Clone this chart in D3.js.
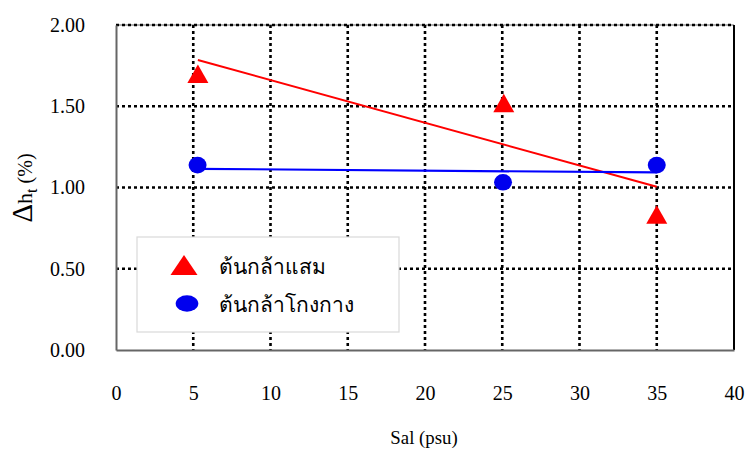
<!DOCTYPE html>
<html>
<head>
<meta charset="utf-8">
<script src="https://cdn.jsdelivr.net/npm/d3@7"></script>
<style>
  html, body { margin: 0; padding: 0; background: #fff; }
  svg { display: block; }
</style>
</head>
<body>
<svg id="chart" width="747" height="450"></svg>
<script>
// Salinity levels (psu) and height change (%) for each seedling type
const samXs = [5.3, 25.1, 35.0];
const samVals = [1.70, 1.52, 0.834];
const kongXs = [5.28, 25.05, 35.0];
const kongVals = [1.138, 1.032, 1.138];
const seriesNames = ["ต้นกล้าแสม", "ต้นกล้าโกงกาง"];
const xTicks = [0, 5, 10, 15, 20, 25, 30, 35, 40];
const yTicks = [0, 0.5, 1.0, 1.5, 2.0];

const FONT = '"Liberation Serif"';

const svg = d3.select("#chart");
const m = { left: 116, right: 734, top: 25, bottom: 350 };

const x = d3.scaleLinear().domain([0, 40]).range([m.left, m.right]);
const y = d3.scaleLinear().domain([0, 2]).range([m.bottom, m.top]);

// plot frame: grey top edge under the dotted top gridline, black right edge
svg.append("line").attr("x1", m.left).attr("x2", m.right).attr("y1", m.top).attr("y2", m.top)
  .attr("stroke", "#999").attr("stroke-width", 1.5);
svg.append("line").attr("x1", m.right).attr("x2", m.right).attr("y1", m.top).attr("y2", m.bottom)
  .attr("stroke", "#000").attr("stroke-width", 2);

// dotted grid
const grid = svg.append("g");
grid.selectAll("line.v").data(xTicks.filter(d => d > 0 && d < 40)).join("line")
  .attr("x1", d => x(d)).attr("x2", d => x(d))
  .attr("y1", m.top).attr("y2", m.bottom)
  .attr("stroke", "#000").attr("stroke-width", 2.6).attr("stroke-dasharray", "3,3");
grid.selectAll("line.h").data(yTicks.filter(d => d > 0)).join("line")
  .attr("x1", m.left).attr("x2", m.right)
  .attr("y1", d => y(d)).attr("y2", d => y(d))
  .attr("stroke", "#000").attr("stroke-width", 2.6).attr("stroke-dasharray", "3,3");

// axes (no tick marks, labels only)
const xAxis = d3.axisBottom(x).tickValues(xTicks).tickSize(0).tickPadding(36).tickFormat(d3.format("d"));
const gx = svg.append("g").attr("transform", `translate(0,${m.bottom})`).call(xAxis);
gx.attr("font-family", null).attr("font-size", null);
gx.select(".domain").attr("stroke", "#666").attr("stroke-width", 2);
gx.selectAll("text").style("font-size", "20px").style("font-family", FONT).attr("fill", "#000");

const yAxis = d3.axisLeft(y).tickValues(yTicks).tickSize(0).tickPadding(31).tickFormat(d3.format(".2f"));
const gy = svg.append("g").attr("transform", `translate(${m.left},0)`).call(yAxis);
gy.attr("font-family", null).attr("font-size", null);
gy.select(".domain").attr("stroke", "#666").attr("stroke-width", 2);
gy.selectAll("text").style("font-size", "20px").style("font-family", FONT).attr("fill", "#000");

// linear trend lines (least squares)
function fit(xs, ys) {
  const n = xs.length;
  const mx = d3.mean(xs), my = d3.mean(ys);
  let sxy = 0, sxx = 0;
  for (let i = 0; i < n; i++) { sxy += (xs[i] - mx) * (ys[i] - my); sxx += (xs[i] - mx) ** 2; }
  const b = sxy / sxx, a = my - b * mx;
  const x0 = d3.min(xs), x1 = d3.max(xs);
  return [[x0, a + b * x0], [x1, a + b * x1]];
}
const line = d3.line().x(d => x(d[0])).y(d => y(d[1]));
svg.append("path").attr("d", line(fit(samXs, samVals)))
  .attr("stroke", "#ff0000").attr("stroke-width", 2).attr("fill", "none");
svg.append("path").attr("d", line(fit(kongXs, kongVals)))
  .attr("stroke", "#0000ff").attr("stroke-width", 2.2).attr("fill", "none");

// triangle marker centred on its bounding box
const triPath = (w, h) => `M0,${-h / 2}L${w / 2},${h / 2}L${-w / 2},${h / 2}Z`;

svg.selectAll("path.sam").data(samXs.map((v, i) => [v, samVals[i]])).join("path")
  .attr("class", "sam")
  .attr("transform", d => `translate(${x(d[0])},${y(d[1])})`)
  .attr("d", triPath(21, 18.5)).attr("fill", "#ff0000");
svg.selectAll("ellipse.kong").data(kongXs.map((v, i) => [v, kongVals[i]])).join("ellipse")
  .attr("class", "kong")
  .attr("cx", d => x(d[0])).attr("cy", d => y(d[1]))
  .attr("rx", 9).attr("ry", 8.3).attr("fill", "#0000ee");

// legend
const lg = svg.append("g");
lg.append("rect").attr("x", 137).attr("y", 237).attr("width", 262).attr("height", 95)
  .attr("fill", "#fff").attr("stroke", "#d9d9d9").attr("stroke-width", 1.2);
lg.append("path").attr("transform", "translate(184,265)").attr("d", triPath(27, 20)).attr("fill", "#ff0000");
lg.append("ellipse").attr("cx", 187).attr("cy", 303.5).attr("rx", 11.3).attr("ry", 8.3).attr("fill", "#0000ee");
lg.selectAll("text").data(seriesNames).join("text")
  .attr("x", 219).attr("y", (d, i) => 274 + i * 38)
  .style("font-family", FONT).style("font-size", "21px").attr("fill", "#000")
  .text(d => d);

// axis titles
svg.append("text").attr("x", 424).attr("y", 444).attr("text-anchor", "middle")
  .style("font-family", FONT).style("font-size", "18.8px").attr("fill", "#000").text("Sal (psu)");
const yt = svg.append("text").attr("transform", "translate(32,188) rotate(-90)")
  .attr("text-anchor", "middle").style("font-family", FONT).attr("fill", "#000");
yt.append("tspan").style("font-size", "29px").text("Δ");
yt.append("tspan").style("font-size", "22px").text("h");
yt.append("tspan").style("font-size", "16px").attr("dy", 5).text("t");
yt.append("tspan").style("font-size", "20px").attr("dy", -5).text(" (%)");
</script>
</body>
</html>
